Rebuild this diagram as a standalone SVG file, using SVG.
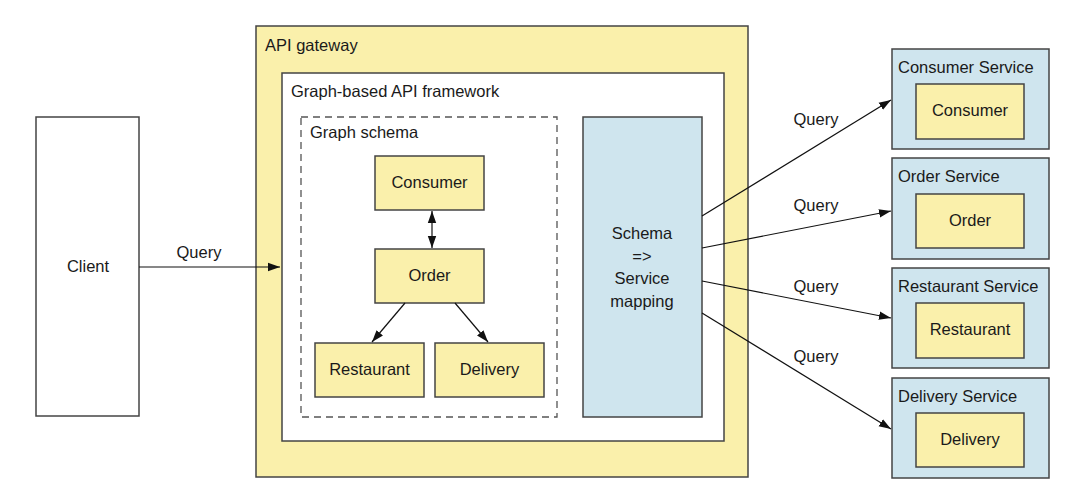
<svg xmlns="http://www.w3.org/2000/svg" width="1080" height="502" viewBox="0 0 1080 502">
<style>
text{font-family:"Liberation Sans",Arial,sans-serif;font-size:16.5px;fill:#1a1a1a}
.c{text-anchor:middle}
.y{fill:#faf0ab;stroke:#444;stroke-width:1.5}
.b{fill:#cfe5ee;stroke:#444;stroke-width:1.5}
.w{fill:#fff;stroke:#444;stroke-width:1.5}
.d{fill:none;stroke:#555;stroke-width:1.3;stroke-dasharray:7,5}
.e{fill:none;stroke:#111;stroke-width:1.2}
</style>
<defs>
<marker id="a" viewBox="0 0 10 10" refX="10" refY="5" markerWidth="12" markerHeight="12" markerUnits="userSpaceOnUse" orient="auto-start-reverse">
<path d="M0,1.5 L10,5 L0,8.5 Z" fill="#111"/>
</marker>
</defs>
<rect width="1080" height="502" fill="#fff"/>
<g id="client"><rect class="w" x="36" y="117" width="103" height="299"/><text class="c" x="88" y="272">Client</text></g>
<g id="gateway"><rect class="y" x="256" y="26" width="492" height="451"/><text x="265" y="51">API gateway</text></g>
<g id="framework"><rect class="w" x="282" y="73" width="442" height="368"/><text x="291" y="97">Graph-based API framework</text></g>
<g id="schema"><rect class="d" x="301" y="117" width="256" height="300"/><text x="310" y="138">Graph schema</text></g>
<g id="g-consumer"><rect class="y" x="375" y="156" width="109" height="54"/><text class="c" x="429.5" y="188">Consumer</text></g>
<g id="g-order"><rect class="y" x="375" y="249" width="109" height="54"/><text class="c" x="429.5" y="281">Order</text></g>
<g id="g-restaurant"><rect class="y" x="315" y="343" width="109" height="54"/><text class="c" x="369.5" y="375">Restaurant</text></g>
<g id="g-delivery"><rect class="y" x="435" y="343" width="109" height="54"/><text class="c" x="489.5" y="375">Delivery</text></g>
<g id="mapping"><rect class="b" x="583" y="117" width="119" height="300"/>
<text class="c" x="642" y="239">Schema</text><text class="c" x="642" y="262">=&gt;</text><text class="c" x="642" y="284">Service</text><text class="c" x="642" y="307">mapping</text></g>
<g id="consumer-service"><rect class="b" x="892" y="49" width="157" height="100"/><text x="898" y="73">Consumer Service</text><rect class="y" x="916" y="84" width="108" height="55"/><text class="c" x="970" y="116">Consumer</text></g>
<g id="order-service"><rect class="b" x="892" y="158" width="157" height="101"/><text x="898" y="182">Order Service</text><rect class="y" x="916" y="194" width="108" height="54"/><text class="c" x="970" y="226">Order</text></g>
<g id="restaurant-service"><rect class="b" x="892" y="268" width="157" height="100"/><text x="898" y="292">Restaurant Service</text><rect class="y" x="916" y="303" width="108" height="55"/><text class="c" x="970" y="335">Restaurant</text></g>
<g id="delivery-service"><rect class="b" x="892" y="378" width="157" height="100"/><text x="898" y="402">Delivery Service</text><rect class="y" x="916" y="413" width="108" height="54"/><text class="c" x="970" y="445">Delivery</text></g>
<g id="connectors">
<line class="e" x1="139" y1="267" x2="280" y2="267" marker-end="url(#a)"/>
<text class="c" x="199" y="258">Query</text>
<line class="e" x1="432" y1="211" x2="432" y2="248" marker-start="url(#a)" marker-end="url(#a)"/>
<line class="e" x1="405" y1="303" x2="372" y2="342" marker-end="url(#a)"/>
<line class="e" x1="455" y1="303" x2="488" y2="342" marker-end="url(#a)"/>
<line class="e" x1="702" y1="216" x2="891" y2="100" marker-end="url(#a)"/>
<text class="c" x="816" y="125">Query</text>
<line class="e" x1="702" y1="248" x2="891" y2="211" marker-end="url(#a)"/>
<text class="c" x="816" y="211">Query</text>
<line class="e" x1="702" y1="281" x2="891" y2="318" marker-end="url(#a)"/>
<text class="c" x="816" y="292">Query</text>
<line class="e" x1="702" y1="313" x2="891" y2="429" marker-end="url(#a)"/>
<text class="c" x="816" y="362">Query</text>
</g>
</svg>
